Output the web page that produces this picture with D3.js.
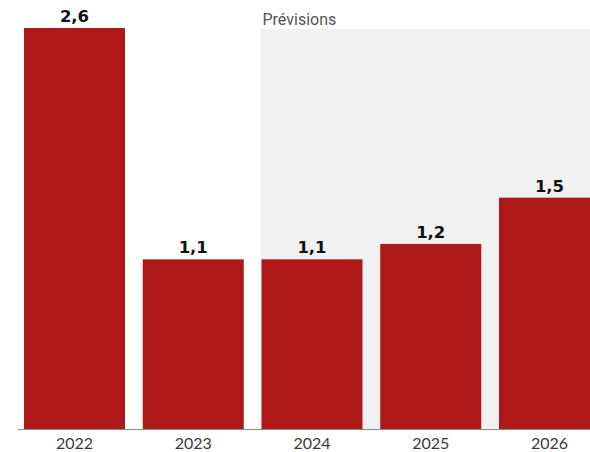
<!DOCTYPE html>
<html>
<head>
<meta charset="utf-8">
<script src="https://cdn.jsdelivr.net/npm/d3@7"></script>
<style>
  html, body { margin: 0; padding: 0; background: #fff; }
  svg { display: block; }
</style>
</head>
<body>
<svg id="chart" width="590" height="452"></svg>
<script>
// Croissance annuelle (%) — 2022-2023 observé, 2024-2026 prévisions
const years = ["2022", "2023", "2024", "2025", "2026"];
const values = [2.6, 1.1, 1.1, 1.2, 1.5];
const valueLabels = ["2,6", "1,1", "1,1", "1,2", "1,5"];
const forecastYears = ["2024", "2025", "2026"];
const forecastLabel = "Prévisions";

const svg = d3.select("#chart");
const W = 590, H = 452;
const baseY = 429, topY = 28;

const x = d3.scaleBand()
  .domain(years)
  .range([24, 600])
  .paddingInner(0.1495)
  .paddingOuter(0);

const y = d3.scaleLinear()
  .domain([0, d3.max(values)])
  .range([baseY, topY]);

// Forecast shaded area
const fx0 = x(forecastYears[0]) - 1;
svg.append("rect")
  .attr("x", fx0)
  .attr("y", 29)
  .attr("width", W - fx0)
  .attr("height", baseY - 29)
  .attr("fill", "#f1f1f1");

svg.append("text")
  .attr("x", fx0 + 2)
  .attr("y", 25)
  .attr("font-family", "Roboto, sans-serif")
  .attr("font-size", 16)
  .attr("fill", "#555")
  .text(forecastLabel);

// Bars
svg.append("g").selectAll("rect")
  .data(years)
  .join("rect")
  .attr("x", d => x(d))
  .attr("y", (d, i) => y(values[i]))
  .attr("width", x.bandwidth())
  .attr("height", (d, i) => baseY - y(values[i]))
  .attr("fill", "#ae1818");

// Value labels
svg.append("g").selectAll("text")
  .data(years)
  .join("text")
  .attr("x", d => x(d) + x.bandwidth() / 2)
  .attr("y", (d, i) => y(values[i]) - 6)
  .attr("text-anchor", "middle")
  .attr("font-family", "'DejaVu Sans', sans-serif")
  .attr("font-weight", "bold")
  .attr("font-size", 16.5)
  .attr("fill", "#111")
  .text((d, i) => valueLabels[i]);

// X axis
const axis = svg.append("g")
  .attr("transform", `translate(0,${baseY})`)
  .call(d3.axisBottom(x).tickSize(0).tickPadding(9));
axis.select(".domain").remove();
axis.selectAll("text")
  .attr("font-family", "Lato, sans-serif")
  .attr("font-size", 16)
  .attr("fill", "#3a3a3a");

svg.append("line")
  .attr("x1", 18).attr("x2", W)
  .attr("y1", baseY + 0.5).attr("y2", baseY + 0.5)
  .attr("stroke", "#8a8a8a")
  .attr("stroke-width", 1);
</script>
</body>
</html>
